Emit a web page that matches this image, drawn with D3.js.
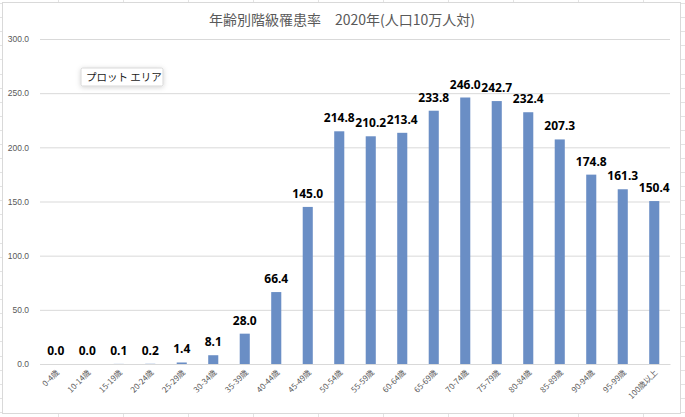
<!DOCTYPE html>
<html lang="ja">
<head>
  <meta charset="UTF-8">
  <title>年齢別階級罹患率 2020年</title>
  <style>
    body { margin: 0; background: #fff; }
    svg { display: block; font-family: "Noto Sans", "Noto Sans CJK JP", sans-serif; }
    .grid line { stroke: #d9d9d9; stroke-width: 1; }
    .grid path { display: none; }
    .yaxis text { fill: #595959; font-size: 8.5px; }
    .xaxis text { fill: #595959; font-size: 8px; font-family: "Noto Sans CJK JP", sans-serif; }
    .label { font-weight: bold; font-size: 12px; fill: #000; }
  </style>
</head>
<body>
<div id="chart"></div>
<script src="https://cdn.jsdelivr.net/npm/d3@7"></script>
<script>
  // データ
  const ageGroups = ["0-4歳", "10-14歳", "15-19歳", "20-24歳", "25-29歳", "30-34歳", "35-39歳",
    "40-44歳", "45-49歳", "50-54歳", "55-59歳", "60-64歳", "65-69歳", "70-74歳", "75-79歳",
    "80-84歳", "85-89歳", "90-94歳", "95-99歳", "100歳以上"];
  const rates = [0.0, 0.0, 0.1, 0.2, 1.4, 8.1, 28.0, 66.4, 145.0, 214.8, 210.2, 213.4,
    233.8, 246.0, 242.7, 232.4, 207.3, 174.8, 161.3, 150.4];
  const yTicks = [0, 50, 100, 150, 200, 250, 300];
  const title = "年齢別階級罹患率　2020年(人口10万人対)";

  const width = 685, height = 417;
  const plot = { left: 40, right: 670, top: 39, bottom: 364 };

  const svg = d3.select("#chart").append("svg")
    .attr("width", width)
    .attr("height", height);

  // シートのセル線（背景）
  const sheet = svg.append("g");
  for (let x = 58; x < width; x += 65) {
    sheet.append("line").attr("x1", x + 0.5).attr("x2", x + 0.5).attr("y1", 0).attr("y2", height)
      .attr("stroke", "#e3e3e3");
  }
  for (let y = 3; y < height; y += 14.1) {
    sheet.append("line").attr("x1", 0).attr("x2", width).attr("y1", Math.round(y) + 0.5).attr("y2", Math.round(y) + 0.5)
      .attr("stroke", "#e3e3e3");
  }

  // グラフエリア
  svg.append("rect")
    .attr("x", 2.5).attr("y", 2.5)
    .attr("width", 678).attr("height", 411)
    .attr("fill", "#fff")
    .attr("stroke", "#d9d9d9");

  const x = d3.scaleBand()
    .domain(ageGroups)
    .range([plot.left, plot.right])
    .paddingInner(0.68)
    .paddingOuter(0.34);

  const y = d3.scaleLinear()
    .domain([0, 300])
    .range([plot.bottom, plot.top]);

  // 目盛線
  svg.append("g")
    .attr("class", "grid")
    .attr("transform", `translate(${plot.left},0)`)
    .call(d3.axisLeft(y).tickValues(yTicks).tickSize(-(plot.right - plot.left)).tickFormat(""))
    .selectAll("line").attr("stroke", "#d9d9d9");

  // 縦軸ラベル
  svg.append("g")
    .attr("class", "yaxis")
    .attr("transform", `translate(${plot.left},0)`)
    .call(d3.axisLeft(y).tickValues(yTicks).tickSize(0).tickPadding(11).tickFormat(d3.format(".1f")))
    .call(g => g.select(".domain").remove());

  // 棒
  svg.append("g")
    .selectAll("rect")
    .data(rates)
    .join("rect")
    .attr("x", (d, i) => x(ageGroups[i]))
    .attr("y", d => y(d))
    .attr("width", x.bandwidth())
    .attr("height", d => y(0) - y(d))
    .attr("fill", "#6a8ec5");

  // 横軸
  const xAxis = svg.append("g")
    .attr("class", "xaxis")
    .attr("transform", `translate(0,${plot.bottom})`)
    .call(d3.axisBottom(x).tickSize(0).tickPadding(0));
  xAxis.select(".domain").attr("stroke", "#d9d9d9");
  xAxis.selectAll("text")
    .attr("text-anchor", "end")
    .attr("dy", null)
    .attr("y", 0)
    .attr("transform", "translate(4,9) rotate(-45)");

  // データラベル
  svg.append("g")
    .selectAll("text")
    .data(rates)
    .join("text")
    .attr("class", "label")
    .attr("x", (d, i) => x(ageGroups[i]) + x.bandwidth() / 2)
    .attr("y", d => y(d) - 9)
    .attr("text-anchor", "middle")
    .text(d => d3.format(".1f")(d));

  // タイトル
  svg.append("text")
    .attr("x", 342)
    .attr("y", 25)
    .attr("text-anchor", "middle")
    .style("font-family", "'Noto Sans CJK JP', sans-serif")
    .style("font-size", "14px")
    .style("fill", "#595959")
    .text(title);

  // ツールチップ「プロット エリア」
  const defs = svg.append("defs");
  const f = defs.append("filter").attr("id", "shadow").attr("x", "-30%").attr("y", "-60%")
    .attr("width", "160%").attr("height", "220%");
  f.append("feDropShadow").attr("dx", 0).attr("dy", 1).attr("stdDeviation", 2.5)
    .attr("flood-color", "#000").attr("flood-opacity", 0.18);
  const tip = svg.append("g").attr("transform", "translate(81,68)");
  tip.append("rect")
    .attr("width", 82).attr("height", 18)
    .attr("fill", "#fff")
    .attr("stroke", "#cfcfcf")
    .attr("stroke-width", 0.8)
    .attr("rx", 1.5)
    .attr("filter", "url(#shadow)");
  tip.append("text")
    .attr("x", 5).attr("y", 13)
    .style("font-family", "'Noto Sans CJK JP', sans-serif")
    .style("font-size", "10.5px")
    .style("fill", "#222")
    .text("プロット エリア");
</script>
</body>
</html>
